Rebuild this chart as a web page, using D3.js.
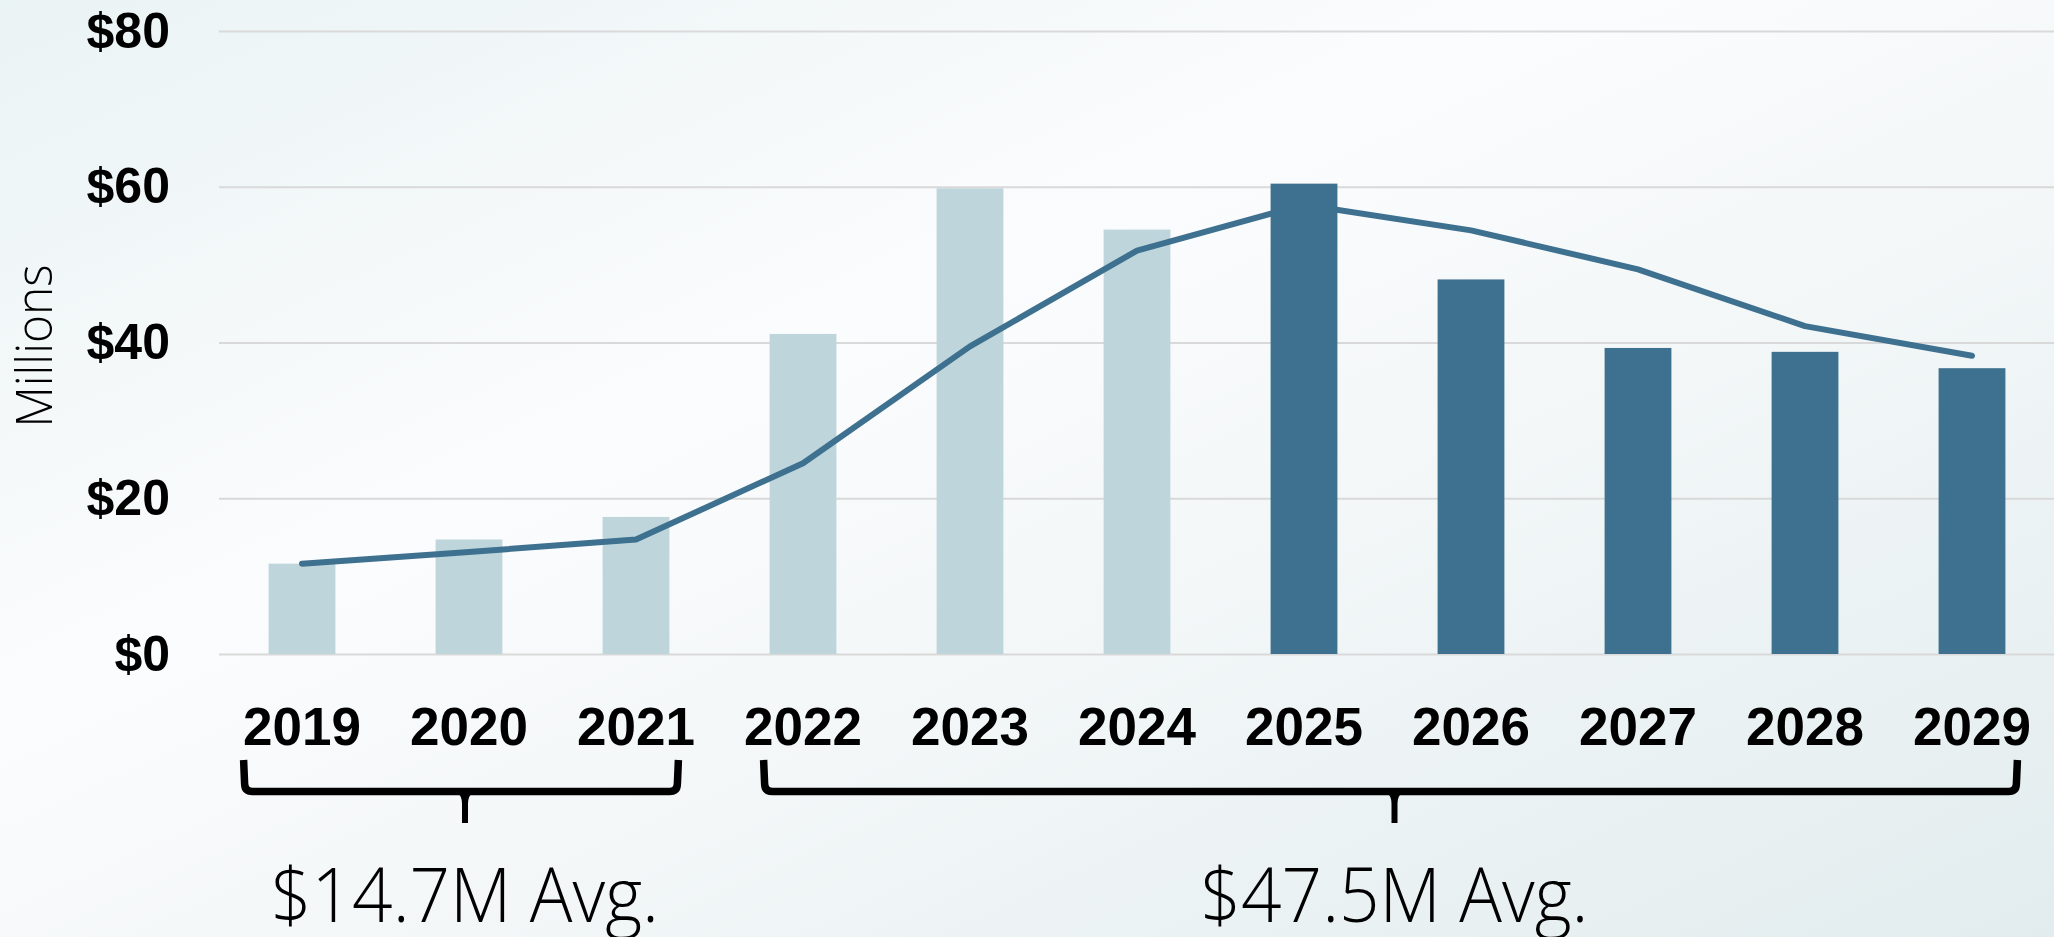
<!DOCTYPE html>
<html>
<head>
<meta charset="utf-8">
<script src="https://cdnjs.cloudflare.com/ajax/libs/d3/7.8.5/d3.min.js"></script>
<style>
  html, body { margin: 0; padding: 0; overflow: hidden; }
  svg { display: block; }
</style>
</head>
<body>
<div id="chart"></div>
<script>
// values (millions)
const years = ["2019","2020","2021","2022","2023","2024","2025","2026","2027","2028","2029"];
const spend = [11.6, 14.7, 17.6, 41.1, 59.8, 54.5, 60.4, 48.1, 39.3, 38.8, 36.7];
const trend = [11.6, 13.1, 14.7, 24.5, 39.5, 51.8, 57.7, 54.4, 49.4, 42.1, 38.3];
const forecastFrom = "2025";
const yTicks = [0, 20, 40, 60, 80];
const groupFrom = ["2019", "2022"];
const groupTo = ["2021", "2029"];
const groupLabels = ["$14.7M Avg.", "$47.5M Avg."];

const LIGHT = "#bed6db", DARK = "#3e7090";
const width = 2054, height = 937;
// how far each brace reaches past its outer bars
const braceOut = [[25, 9], [6, 12]];

const svg = d3.select("#chart").append("svg")
  .attr("width", width)
  .attr("height", height);

//--------background------
const defs = svg.append("defs");
const grad = defs.append("linearGradient")
  .attr("id", "bg").attr("x1", "0").attr("y1", "0").attr("x2", "1").attr("y2", "1");
grad.append("stop").attr("offset", "0").attr("stop-color", "#eaf3f4");
grad.append("stop").attr("offset", "0.38").attr("stop-color", "#fbfcfd");
grad.append("stop").attr("offset", "0.6").attr("stop-color", "#f3f7f8");
grad.append("stop").attr("offset", "1").attr("stop-color", "#e2ecee");
svg.append("rect").attr("width", width).attr("height", height).attr("fill", "url(#bg)");

const x = d3.scaleBand()
  .domain(years)
  .range([218.5, 2055.5])
  .paddingInner(0.6)
  .paddingOuter(0.3);

const y = d3.scaleLinear()
  .domain([0, 80])
  .range([654, 31]);

//--------grid + y axis------
const yAxis = svg.append("g")
  .attr("transform", "translate(219,0)")
  .call(d3.axisLeft(y).tickValues(yTicks).tickSize(-(width - 219)).tickPadding(49).tickFormat(d => "$" + d));
yAxis.select(".domain").remove();
yAxis.selectAll(".tick line").attr("stroke", "#d9d9d9").attr("stroke-width", 2);
yAxis.selectAll(".tick text")
  .attr("font-family", "'Liberation Sans', Arial, sans-serif")
  .attr("font-weight", "bold")
  .attr("font-size", 50)
  .attr("fill", "#000");

svg.append("text")
  .attr("transform", "translate(52,346) rotate(-90)")
  .attr("text-anchor", "middle")
  .attr("font-family", "'Open Sans', sans-serif")
  .attr("font-weight", 300)
  .attr("font-size", 50)
  .attr("textLength", 163)
  .attr("lengthAdjust", "spacingAndGlyphs")
  .attr("fill", "#000")
  .text("Millions");

//--------bars------
const forecastIdx = years.indexOf(forecastFrom);
svg.append("g").selectAll("rect")
  .data(years)
  .enter().append("rect")
  .attr("x", d => x(d))
  .attr("width", x.bandwidth())
  .attr("y", (d, i) => y(spend[i]))
  .attr("height", (d, i) => y(0) - y(spend[i]))
  .attr("fill", (d, i) => i >= forecastIdx ? DARK : LIGHT);

//--------trend line------
const line = d3.line()
  .x((d, i) => x(years[i]) + x.bandwidth() / 2)
  .y(d => y(d));

svg.append("path")
  .datum(trend)
  .attr("d", line)
  .attr("fill", "none")
  .attr("stroke", DARK)
  .attr("stroke-width", 6)
  .attr("stroke-linecap", "round")
  .attr("stroke-linejoin", "round");

//--------x labels------
const xAxis = svg.append("g")
  .attr("transform", "translate(0,654)")
  .call(d3.axisBottom(x).tickSize(0).tickPadding(0));
xAxis.select(".domain").remove();
xAxis.selectAll(".tick text")
  .attr("dy", null)
  .attr("y", 91)
  .attr("font-family", "'Liberation Sans', Arial, sans-serif")
  .attr("font-weight", "bold")
  .attr("font-size", 53)
  .attr("fill", "#000");

//--------brackets------
const bTop = 760, bMid = 791.5, tipY = 823, r = 8;
groupLabels.forEach((label, k) => {
  const x0 = x(groupFrom[k]) - braceOut[k][0];
  const x1 = x(groupTo[k]) + x.bandwidth() + braceOut[k][1];
  const cx = (x0 + x1) / 2 + 4;
  svg.append("path")
    .attr("d", `M${x0},${bTop} L${x0 + 1},${bMid - r} Q${x0 + 1},${bMid} ${x0 + r + 1},${bMid} L${x1 - r - 1},${bMid} Q${x1 - 1},${bMid} ${x1 - 1},${bMid - r} L${x1},${bTop}`)
    .attr("fill", "none")
    .attr("stroke", "#000")
    .attr("stroke-width", 7.5)
    .attr("stroke-linecap", "butt");
  // centre point of the brace
  svg.append("path")
    .attr("d", `M${cx - 9},${bMid} Q${cx - 3},${bMid + 4} ${cx - 3},${bMid + 12} L${cx - 3},${tipY} L${cx + 3},${tipY} L${cx + 3},${bMid + 12} Q${cx + 3},${bMid + 4} ${cx + 9},${bMid} Z`)
    .attr("fill", "#000");

  svg.append("text")
    .attr("x", cx)
    .attr("y", 922)
    .attr("text-anchor", "middle")
    .attr("font-family", "'Open Sans', sans-serif")
    .attr("font-weight", 300)
    .attr("font-size", 75)
    .attr("textLength", 388)
    .attr("lengthAdjust", "spacingAndGlyphs")
    .attr("fill", "#000")
    .text(label);
});
</script>
</body>
</html>
